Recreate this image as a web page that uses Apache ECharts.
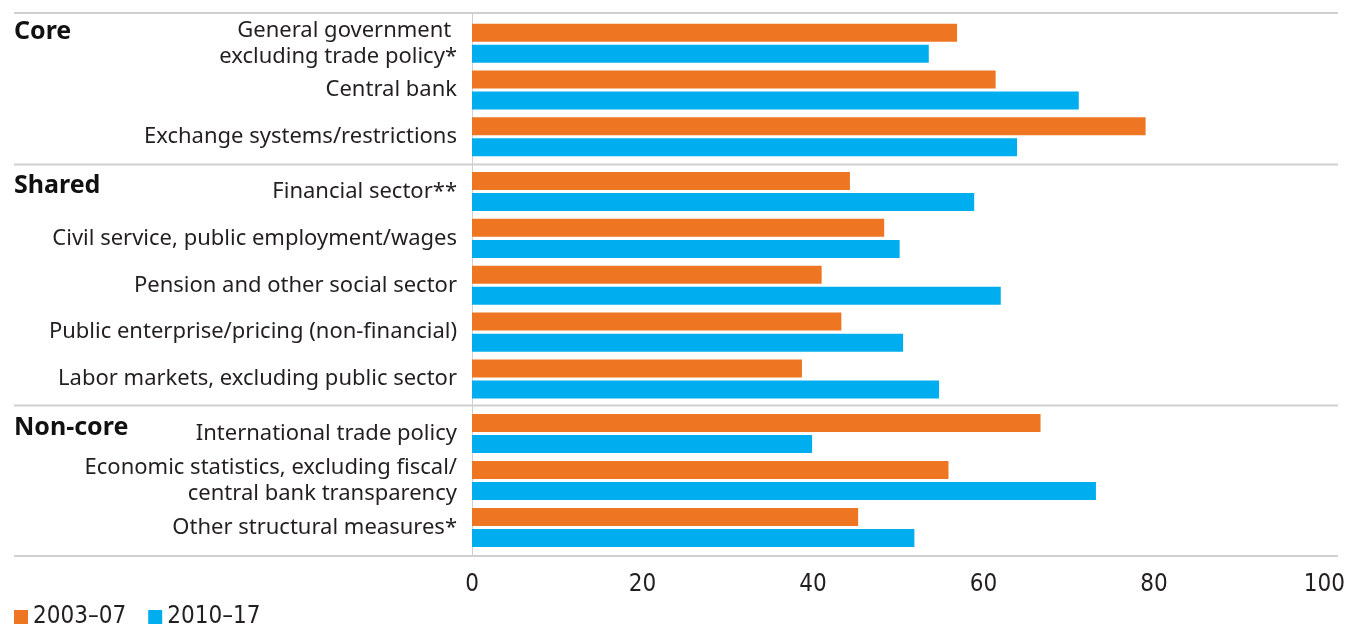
<!DOCTYPE html>
<html>
<head>
<meta charset="utf-8">
<title>Chart</title>
<script src="https://cdn.jsdelivr.net/npm/echarts@6/dist/echarts.min.js"></script>
<style>
    html, body {margin: 0; padding: 0; background: #fff;}
    #chart {width: 1348px; height: 626px;}
</style>
</head>
<body>
<div id="chart"></div>
<script>
// categories, by group
var coreCats    = ['General government \nexcluding trade policy*', 'Central bank', 'Exchange systems/restrictions'];
var sharedCats  = ['Financial sector**', 'Civil service, public employment/wages', 'Pension and other social sector',
                   'Public enterprise/pricing (non-financial)', 'Labor markets, excluding public sector'];
var noncoreCats = ['International trade policy', 'Economic statistics, excluding fiscal/\ncentral bank transparency',
                   'Other structural measures*'];

// 2003-07
var core0307    = [56.6, 61.1, 78.6];
var shared0307  = [44.1, 48.1, 40.8, 43.1, 38.5];
var noncore0307 = [66.7, 55.9, 45.3];
// 2010-17
var core1017    = [53.3, 70.8, 63.6];
var shared1017  = [58.6, 49.9, 61.7, 50.3, 54.5];
var noncore1017 = [39.9, 73.2, 51.9];

var groupNames = ['Core', 'Shared', 'Non-core'];
var periods    = ['2003\u201307', '2010\u201317'];
var xTicks     = [0, 20, 40, 60, 80, 100];

var ORANGE = '#ee7623';
var BLUE   = '#00aeef';
var LINE   = '#cfcfcf';
var LABEL_FONT  = '"Noto Sans", sans-serif';
var NUMBER_FONT = '"Liberation Sans Narrow", "DejaVu Sans Condensed", sans-serif';

var myChart = echarts.init(document.getElementById('chart'));

// grid boxes (px), one per group
var grids = [
    {left: 472, right: 19, top: 20,  height: 140},
    {left: 472, right: 19, top: 168, height: 234.5},
    {left: 472, right: 19, top: 410, height: 141}
];
var cats = [coreCats, sharedCats, noncoreCats];
var vals = [[core0307, core1017], [shared0307, shared1017], [noncore0307, noncore1017]];

var xAxes = [], yAxes = [], series = [];
for (var g = 0; g < 3; g++) {
    xAxes.push({
        gridIndex: g,
        type     : 'value',
        min      : xTicks[0],
        max      : xTicks[xTicks.length - 1],
        interval : xTicks[1] - xTicks[0],
        show     : g === 2,
        axisLine : {show: false},
        axisTick : {show: false},
        splitLine: {show: false},
        axisLabel: {
            margin    : 22,
            fontSize  : 24,
            color     : '#231f20',
            fontFamily: NUMBER_FONT
        }
    });
    yAxes.push({
        gridIndex: g,
        type     : 'category',
        inverse  : true,
        data     : cats[g],
        axisLine : {show: false},
        axisTick : {show: false},
        axisLabel: {
            margin    : 15,
            fontSize  : 22,
            lineHeight: 26,
            color     : '#231f20',
            fontFamily: LABEL_FONT
        }
    });
    for (var p = 0; p < 2; p++) {
        series.push({
            name      : periods[p],
            type      : 'bar',
            xAxisIndex: g,
            yAxisIndex: g,
            data      : vals[g][p],
            barWidth  : 18,
            barGap    : '17%',
            itemStyle : {color: p === 0 ? ORANGE : BLUE},
            silent    : true
        });
    }
}

// separator lines, axis line and group headings
var sepY = [13, 164.5, 405.5, 556];
var graphics = [];
sepY.forEach(function (y) {
    graphics.push({
        type : 'line',
        shape: {x1: 14, y1: y, x2: 1338, y2: y},
        style: {stroke: LINE, lineWidth: 2}
    });
});
graphics.push({
    type : 'line',
    shape: {x1: 472.5, y1: 13, x2: 472.5, y2: 556},
    style: {stroke: LINE, lineWidth: 1}
});
var headY = [19, 173, 415];
groupNames.forEach(function (name, i) {
    graphics.push({
        type : 'text',
        left : 14,
        top  : headY[i],
        style: {
            text      : name,
            fontSize  : 25,
            fontWeight: 'bold',
            fill      : '#111',
            fontFamily: LABEL_FONT
        }
    });
});

var option = {
    animation: false,
    grid     : grids,
    xAxis    : xAxes,
    yAxis    : yAxes,
    series   : series,
    legend   : {
        data      : periods,
        left      : 9,
        top       : 600,
        itemWidth : 14,
        itemHeight: 14,
        itemGap   : 22,
        icon      : 'rect',
        textStyle : {
            fontSize  : 24,
            color     : '#231f20',
            fontFamily: NUMBER_FONT
        }
    },
    graphic  : graphics
};

myChart.setOption(option);
</script>
</body>
</html>
